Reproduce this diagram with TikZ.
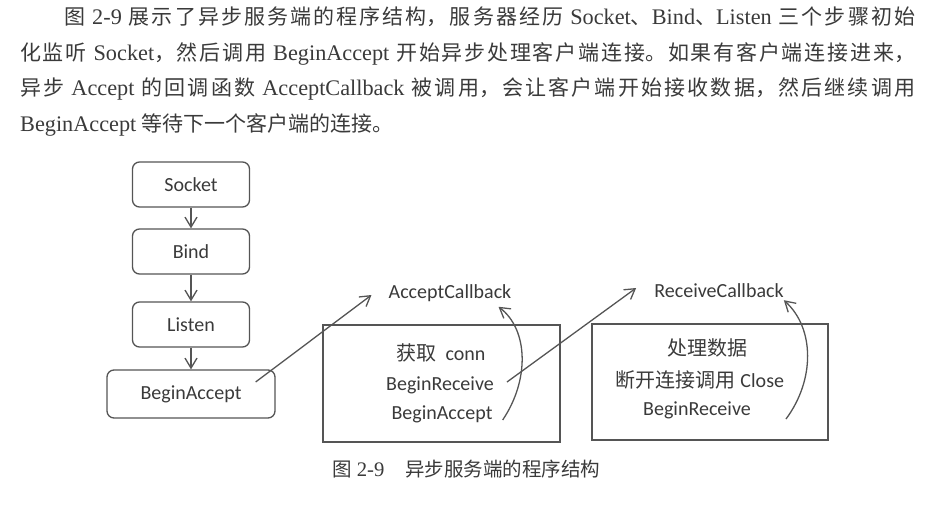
\documentclass[tikz,border=0pt]{standalone}
\usepackage{fontspec}
\setmainfont{Liberation Serif}[Scale=1.06]
\newfontfamily\cjk{Noto Sans CJK SC}
\newfontfamily\cali{Carlito}
\usetikzlibrary{arrows.meta,calc}
\XeTeXlinebreaklocale "zh"
\XeTeXlinebreakskip=0pt plus 4pt
\newcommand\zh[1]{{\cjk #1}}
\definecolor{ink}{HTML}{3A3A3A}
\definecolor{edge}{HTML}{555555}
\tikzset{
  stepbox/.style={draw=edge,line width=1.3pt,rounded corners=7pt,minimum width=117pt,
    minimum height=45pt,font=\cali\fontsize{20}{24}\selectfont,text=ink},
  panel/.style={draw=edge,line width=1.1pt,minimum width=237pt,minimum height=117pt},
  lbl/.style={font=\cali\fontsize{20}{24}\selectfont,text=ink,inner sep=2pt},
  arr/.style={draw=edge,line width=1.3pt,-{Straight Barb[length=10pt,width=12pt]}},
  para/.style={anchor=base west,inner sep=0pt,text=ink},
}
\begin{document}
\begin{tikzpicture}[x=1pt,y=-1pt]
\useasboundingbox (0,0) rectangle (940,506);
% text above the figure
\node[para,text width=895pt,align=justify,font=\fontsize{21}{35.6}\selectfont] (intro) at (20,24.5)
  {\hspace*{44pt}\zh{图} 2-9 \zh{展示了异步服务端的程序结构，服务器经历} Socket\zh{、}Bind\zh{、}Listen \zh{三个步骤初始}\linebreak
   \zh{化监听} Socket\zh{，然后调用} BeginAccept \zh{开始异步处理客户端连接。如果有客户端连接进来，}\linebreak
   \zh{异步} Accept \zh{的回调函数} AcceptCallback \zh{被调用，会让客户端开始接收数据，然后继续调用}\linebreak
   BeginAccept \zh{等待下一个客户端的连接。}};
% server steps
\node[stepbox] (socket) at (191,184.5) {Socket};
\node[stepbox] (bind) at (191,251.5) {Bind};
\node[stepbox] (listen) at (191,324.5) {Listen};
\node[stepbox,minimum width=168pt,minimum height=48pt] (beginaccept) at (191,394) {BeginAccept};
\foreach \a/\b in {socket/bind,bind/listen,listen/beginaccept}
  \draw[arr] (\a) -- (\b);
% accept callback
\node[lbl] (accb) at (450,293) {AcceptCallback};
\node[panel] (acceptbox) at (441.5,383.5) {};
\node[lbl] (getconn) at (441,353) {\zh{获取}\ \ conn};
\node[lbl] (beginrecv) at (440,385) {BeginReceive};
\node[lbl] (beginacc2) at (442,414) {BeginAccept};
% receive callback
\node[lbl] (rcvcb) at (719,291) {ReceiveCallback};
\node[panel,minimum width=236pt,minimum height=116pt] (recvbox) at (710,382) {};
\node[lbl] (handle) at (707,348) {\zh{处理数据}};
\node[lbl] (close) at (700,380) {\zh{断开连接调用} Close};
\node[lbl] (beginrecv2) at (697,410) {BeginReceive};
\draw[arr] ($(beginaccept.east)+(-20,-12)$) -- ($(accb.west)+(-15,2)$);
\draw[arr] ($(beginrecv.east)+(11,-3)$) -- ($(rcvcb.west)+(-16,-3)$);
\draw[arr] ($(beginacc2.east)+(8,6)$) .. controls +(27,-40) and +(30,23) .. ($(accb.south east)+(-15,3)$);
\draw[arr] ($(beginrecv2.east)+(33,9)$) .. controls +(29,-39) and +(31,28) .. ($(rcvcb.south east)+(-2,0)$);
% caption
\node[para,anchor=west,font=\fontsize{19.5}{23}\selectfont] (caption) at (332,469) {\zh{图} 2-9\quad\zh{异步服务端的程序结构}};
\end{tikzpicture}
\end{document}
